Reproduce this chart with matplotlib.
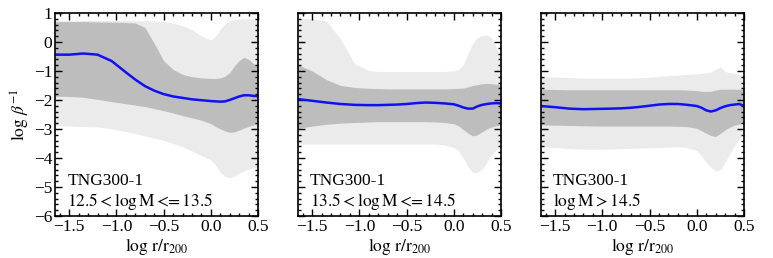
import numpy as np
import matplotlib
matplotlib.use("Agg")
import matplotlib.pyplot as plt
from matplotlib.ticker import MultipleLocator

plt.rcParams['font.family'] = 'serif'
plt.rcParams['font.serif'] = ['Liberation Serif', 'DejaVu Serif']
plt.rcParams['mathtext.fontset'] = 'stix'
plt.rcParams['font.size'] = 12.5

# radius grid (log r/r200)
logr = [-1.65, -1.5, -1.35, -1.2, -1.05, -0.9, -0.8, -0.7, -0.6, -0.5, -0.4, -0.3, -0.2,
        -0.1, 0.0, 0.05, 0.1, 0.15, 0.2, 0.25, 0.3, 0.35, 0.4, 0.45, 0.5]

labels = [r'$12.5 < \log\mathrm{M} <\!\!\!= 13.5$',
          r'$13.5 < \log\mathrm{M} <\!\!\!= 14.5$',
          r'$\log\mathrm{M} > 14.5$']

# median
med_1 = [-0.44, -0.44, -0.40, -0.44, -0.66, -1.05, -1.30, -1.52, -1.68, -1.80, -1.88, -1.93, -1.98,
         -2.01, -2.04, -2.05, -2.06, -2.05, -2.00, -1.94, -1.88, -1.84, -1.84, -1.86, -1.87]
med_2 = [-1.97, -2.03, -2.09, -2.14, -2.17, -2.18, -2.18, -2.17, -2.16, -2.14, -2.11, -2.09, -2.10,
         -2.12, -2.15, -2.20, -2.26, -2.30, -2.30, -2.22, -2.17, -2.14, -2.12, -2.11, -2.12]
med_3 = [-2.21, -2.25, -2.30, -2.32, -2.31, -2.30, -2.29, -2.27, -2.24, -2.20, -2.16, -2.14, -2.14,
         -2.17, -2.21, -2.27, -2.36, -2.40, -2.36, -2.28, -2.22, -2.18, -2.16, -2.14, -2.21]

# inner band (dark)
in_hi_1 = [0.70, 0.70, 0.70, 0.69, 0.68, 0.67, 0.65, 0.50, -0.05, -0.65, -0.95, -1.12, -1.20,
           -1.24, -1.26, -1.26, -1.24, -1.18, -1.05, -0.82, -0.64, -0.53, -0.60, -0.75, -0.80]
in_lo_1 = [-1.87, -1.88, -1.91, -1.98, -2.06, -2.13, -2.18, -2.23, -2.30, -2.37, -2.45, -2.54, -2.62,
           -2.70, -2.82, -2.92, -3.00, -3.07, -3.12, -3.10, -3.04, -2.97, -2.91, -2.86, -2.84]
in_hi_2 = [-0.79, -1.00, -1.30, -1.50, -1.57, -1.60, -1.61, -1.62, -1.62, -1.62, -1.62, -1.62, -1.62,
           -1.62, -1.61, -1.60, -1.59, -1.55, -1.50, -1.47, -1.44, -1.43, -1.44, -1.46, -1.48]
in_lo_2 = [-2.98, -2.90, -2.84, -2.80, -2.78, -2.76, -2.75, -2.75, -2.75, -2.75, -2.75, -2.75, -2.76,
           -2.78, -2.82, -2.90, -3.02, -3.15, -3.24, -3.20, -3.10, -3.00, -2.93, -2.89, -2.86]
in_hi_3 = [-1.63, -1.64, -1.65, -1.65, -1.65, -1.65, -1.65, -1.65, -1.65, -1.65, -1.65, -1.65, -1.65,
           -1.66, -1.68, -1.70, -1.71, -1.70, -1.66, -1.63, -1.63, -1.63, -1.63, -1.63, -1.63]
in_lo_3 = [-2.86, -2.87, -2.88, -2.89, -2.90, -2.90, -2.90, -2.90, -2.90, -2.90, -2.90, -2.90, -2.91,
           -2.92, -2.98, -3.06, -3.15, -3.23, -3.26, -3.15, -3.03, -2.94, -2.87, -2.83, -2.80]

# outer band (light)
out_hi_1 = [0.74, 0.74, 0.74, 0.74, 0.74, 0.74, 0.73, 0.73, 0.72, 0.71, 0.65, 0.56, 0.42,
            0.20, 0.07, 0.20, 0.45, 0.62, 0.72, 0.77, 0.78, 0.79, 0.79, 0.79, 0.79]
out_lo_1 = [-2.89, -2.90, -2.92, -2.93, -3.00, -3.09, -3.16, -3.24, -3.31, -3.40, -3.50, -3.62, -3.76,
            -3.92, -4.07, -4.25, -4.50, -4.64, -4.68, -4.62, -4.53, -4.45, -4.38, -4.34, -4.34]
out_hi_2 = [0.82, 0.80, 0.72, 0.10, -0.75, -0.98, -1.02, -1.02, -1.02, -1.02, -1.02, -1.02, -1.02,
            -1.02, -1.00, -0.95, -0.79, -0.40, -0.05, 0.15, 0.22, 0.24, 0.15, -0.20, -0.62]
out_lo_2 = [-3.52, -3.52, -3.52, -3.52, -3.52, -3.52, -3.52, -3.52, -3.52, -3.52, -3.52, -3.52, -3.52,
            -3.55, -3.65, -3.75, -4.00, -4.30, -4.50, -4.50, -4.38, -4.15, -3.90, -3.72, -3.61]
out_hi_3 = [-1.20, -1.21, -1.23, -1.25, -1.25, -1.25, -1.25, -1.25, -1.24, -1.22, -1.19, -1.16, -1.14,
            -1.12, -1.10, -1.08, -1.07, -1.04, -0.93, -0.86, -1.02, -1.06, -1.08, -1.12, -1.17]
out_lo_3 = [-3.61, -3.64, -3.68, -3.70, -3.70, -3.69, -3.68, -3.67, -3.66, -3.65, -3.64, -3.63, -3.61,
            -3.65, -3.75, -3.92, -4.15, -4.32, -4.45, -4.40, -4.15, -3.85, -3.58, -3.35, -3.15]

panels = [(med_1, in_lo_1, in_hi_1, out_lo_1, out_hi_1),
          (med_2, in_lo_2, in_hi_2, out_lo_2, out_hi_2),
          (med_3, in_lo_3, in_hi_3, out_lo_3, out_hi_3)]

fig, axes = plt.subplots(1, 3, figsize=(7.73, 2.58), dpi=100, sharey=True)
fig.subplots_adjust(left=0.0712, right=0.9625, bottom=0.163, top=0.95, wspace=0.196)

for i, ax in enumerate(axes):
    med, in_lo, in_hi, out_lo, out_hi = panels[i]
    ax.fill_between(logr, out_lo, out_hi, color='#ebebeb', lw=0)
    ax.fill_between(logr, in_lo, in_hi, color='#bdbdbd', lw=0)
    ax.plot(logr, med, color='#1010f5', lw=1.8)

    ax.set_xlim(-1.65, 0.5)
    ax.set_ylim(-6, 1)
    ax.xaxis.set_major_locator(MultipleLocator(0.5))
    ax.xaxis.set_minor_locator(MultipleLocator(0.1))
    ax.yaxis.set_major_locator(MultipleLocator(1))
    ax.yaxis.set_minor_locator(MultipleLocator(0.2))
    ax.tick_params(which='both', direction='in', top=True, right=True, width=1)
    ax.tick_params(which='major', length=5, pad=2)
    ax.tick_params(which='minor', length=2.5)
    for s in ax.spines.values():
        s.set_linewidth(1.2)
    ax.set_xlabel(r'$\log\,\mathrm{r/r_{200}}$', labelpad=1)
    ax.text(0.06, 0.02, 'TNG300-1\n' + labels[i], transform=ax.transAxes,
            ha='left', va='bottom', linespacing=1.15)

axes[0].set_ylabel(r'$\log\,\beta^{-1}$', labelpad=1)
for ax in axes[1:]:
    ax.tick_params(labelleft=False)

fig.savefig('out.png', dpi=100)
